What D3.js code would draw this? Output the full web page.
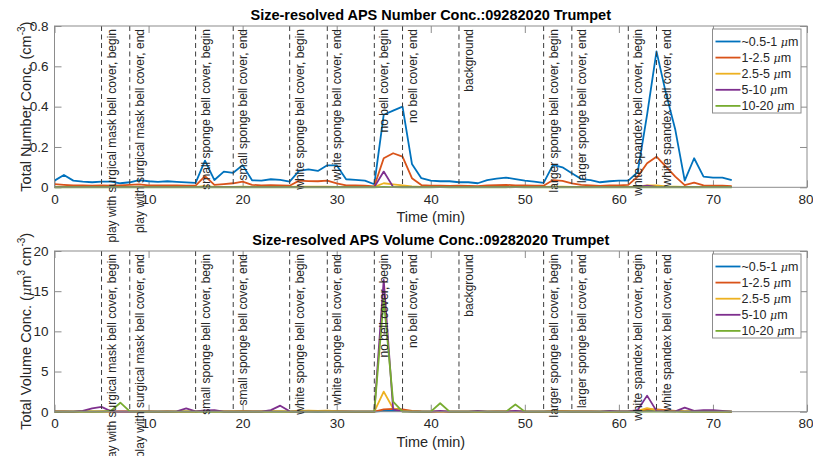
<!DOCTYPE html>
<html>
<head>
<meta charset="utf-8">
<script src="https://cdn.jsdelivr.net/npm/d3@7"></script>
<style>
  body { margin: 0; background: #fff; }
  svg { display: block; font-family: "Liberation Sans", Arial, sans-serif; }
</style>
</head>
<body>
<div id="chart"></div>
<script>
// minutes since start
const time = [0,1,2,3,4,5,6,7,8,9,10,11,12,13,14,15,16,17,18,19,20,21,22,23,24,25,26,27,28,29,30,31,32,33,34,35,36,
  37,38,39,40,41,42,43,44,45,46,47,48,49,50,51,52,53,54,55,56,57,58,59,60,61,62,63,64,65,66,67,68,69,70,71,72]

const sizeBins = ["~0.5-1", "1-2.5", "2.5-5", "5-10", "10-20"]
const binColors = ["#0072BD", "#D95319", "#EDB120", "#7E2F8E", "#77AC30"]

// number conc. (cm^-3)
const numSmall = [0.033,0.061,0.033,0.028,0.025,0.028,0.028,0.020,0.025,0.036,0.030,0.027,0.030,0.027,0.024,0.022,0.132,0.036,
  0.078,0.072,0.110,0.035,0.033,0.040,0.037,0.028,0.081,0.089,0.081,0.109,0.109,0.040,0.037,0.033,0.015,0.360,0.380,0.400,
  0.116,0.045,0.033,0.030,0.030,0.025,0.025,0.020,0.036,0.043,0.048,0.041,0.033,0.028,0.022,0.111,0.099,0.070,0.041,0.036,
  0.025,0.030,0.033,0.033,0.075,0.360,0.674,0.467,0.285,0.033,0.144,0.053,0.048,0.048,0.036]
const numMid = [0.016,0.012,0.009,0.010,0.008,0.010,0.008,0.010,0.012,0.015,0.010,0.009,0.010,0.009,0.008,0.008,0.055,0.012,
  0.016,0.020,0.028,0.012,0.010,0.011,0.010,0.008,0.033,0.031,0.030,0.033,0.020,0.010,0.009,0.008,0.005,0.144,0.169,0.152,
  0.045,0.011,0.008,0.008,0.007,0.008,0.007,0.006,0.009,0.011,0.012,0.010,0.009,0.008,0.008,0.036,0.032,0.020,0.012,0.010,
  0.007,0.009,0.010,0.012,0.053,0.119,0.152,0.102,0.053,0.011,0.023,0.010,0.008,0.008,0.006]
const numLarge = [0.002,0.002,0.002,0.002,0.002,0.002,0.002,0.002,0.002,0.002,0.002,0.002,0.002,0.002,0.002,0.002,0.006,0.002,
  0.002,0.002,0.003,0.002,0.002,0.002,0.002,0.002,0.003,0.003,0.003,0.003,0.002,0.002,0.002,0.002,0.002,0.020,0.015,0.010,
  0.004,0.002,0.002,0.002,0.002,0.002,0.002,0.002,0.002,0.002,0.002,0.002,0.002,0.002,0.002,0.003,0.003,0.002,0.002,0.002,
  0.002,0.002,0.002,0.002,0.003,0.010,0.010,0.005,0.003,0.002,0.002,0.002,0.002,0.002,0.002]
const numXL = [0.001,0.001,0.001,0.001,0.001,0.001,0.001,0.001,0.001,0.001,0.001,0.001,0.001,0.001,0.001,0.001,0.001,0.001,
  0.001,0.001,0.001,0.001,0.001,0.001,0.001,0.001,0.001,0.001,0.001,0.001,0.001,0.001,0.001,0.001,0.001,0.078,0.002,0.001,
  0.001,0.001,0.001,0.001,0.001,0.001,0.001,0.001,0.001,0.001,0.001,0.001,0.001,0.001,0.001,0.001,0.001,0.001,0.001,0.001,
  0.001,0.001,0.001,0.001,0.002,0.008,0.002,0.001,0.001,0.001,0.001,0.001,0.001,0.001,0.001]
const numXXL = [0.0003,0.0003,0.0003,0.0003,0.0003,0.0003,0.0003,0.0003,0.0003,0.0003,0.0003,0.0003,0.0003,0.0003,0.0003,
  0.0003,0.0003,0.0003,0.0003,0.0003,0.0003,0.0003,0.0003,0.0003,0.0003,0.0003,0.0003,0.0003,0.0003,0.0003,0.0003,0.0003,
  0.0003,0.0003,0.0003,0.002,0.0005,0.0003,0.0003,0.0003,0.0003,0.0005,0.0003,0.0003,0.0003,0.0003,0.0003,0.0003,0.0003,
  0.0005,0.0003,0.0003,0.0003,0.0003,0.0003,0.0003,0.0003,0.0003,0.0003,0.0003,0.0003,0.0003,0.0003,0.0003,0.0003,0.0003,
  0.0003,0.0003,0.0003,0.0003,0.0003,0.0003,0.0003]

// volume conc. (um^3 cm^-3)
const volSmall = [0.01,0.02,0.01,0.01,0.01,0.01,0.01,0.01,0.01,0.01,0.01,0.01,0.01,0.01,0.01,0.01,0.04,0.01,0.02,0.02,0.03,
  0.01,0.01,0.01,0.01,0.01,0.02,0.03,0.02,0.03,0.03,0.01,0.01,0.01,0.01,0.10,0.11,0.12,0.03,0.01,0.01,0.01,0.01,0.01,0.01,
  0.01,0.01,0.01,0.01,0.01,0.01,0.01,0.01,0.03,0.03,0.02,0.01,0.01,0.01,0.01,0.01,0.01,0.02,0.10,0.15,0.12,0.08,0.01,0.04,
  0.02,0.01,0.01,0.01]
const volMid = [0.03,0.03,0.02,0.03,0.02,0.03,0.02,0.03,0.03,0.04,0.03,0.02,0.03,0.02,0.02,0.02,0.10,0.03,0.04,0.05,0.06,
  0.03,0.03,0.03,0.03,0.02,0.07,0.07,0.07,0.07,0.05,0.03,0.02,0.02,0.02,0.30,0.35,0.30,0.10,0.03,0.02,0.02,0.02,0.02,0.02,
  0.02,0.02,0.03,0.03,0.03,0.02,0.02,0.02,0.08,0.07,0.05,0.03,0.03,0.02,0.02,0.02,0.03,0.12,0.25,0.30,0.20,0.10,0.03,0.05,
  0.03,0.02,0.02,0.02]
const volLarge = [0.02,0.02,0.02,0.02,0.03,0.02,0.02,0.02,0.02,0.02,0.02,0.02,0.02,0.02,0.03,0.02,0.05,0.02,0.02,0.03,0.04,
  0.02,0.02,0.02,0.03,0.02,0.10,0.12,0.10,0.12,0.08,0.02,0.02,0.02,0.02,2.50,0.40,0.10,0.05,0.02,0.02,0.02,0.02,0.02,0.02,
  0.02,0.02,0.02,0.02,0.02,0.02,0.02,0.02,0.05,0.05,0.03,0.02,0.02,0.02,0.02,0.02,0.02,0.10,0.45,0.20,0.10,0.05,0.02,0.03,
  0.02,0.02,0.02,0.02]
const volXL = [0.02,0.02,0.02,0.10,0.42,0.60,0.05,0.02,0.02,0.02,0.02,0.02,0.02,0.05,0.42,0.05,0.15,0.20,0.02,0.02,0.02,
  0.02,0.02,0.20,0.75,0.05,0.02,0.02,0.02,0.02,0.02,0.02,0.02,0.02,0.02,16.40,0.30,0.05,0.02,0.02,0.02,0.10,0.02,0.02,0.02,
  0.10,0.02,0.02,0.02,0.10,0.02,0.02,0.02,0.02,0.02,0.02,0.02,0.02,0.02,0.10,0.05,0.05,0.20,2.00,0.10,0.05,0.05,0.50,0.10,
  0.20,0.20,0.10,0.02]
const volXXL = [0.01,0.01,0.01,0.01,0.01,0.01,0.10,1.12,0.05,0.01,0.01,0.01,0.01,0.01,0.01,0.01,0.01,0.01,0.01,0.01,0.01,
  0.01,0.01,0.01,0.01,0.01,0.01,0.01,0.01,0.01,0.01,0.01,0.01,0.01,0.01,14.00,1.25,0.01,0.01,0.01,0.01,1.05,0.01,0.01,0.01,
  0.01,0.01,0.01,0.01,0.90,0.01,0.01,0.01,0.01,0.01,0.01,0.01,0.01,0.01,0.01,0.01,0.01,0.01,0.05,0.01,0.01,0.01,0.01,0.01,
  0.01,0.01,0.01,0.01]

// cover events (min) and their notes
const eventTimes = [5, 8, 15, 19, 25, 29, 34, 37, 43, 52, 55, 61, 64]
const eventLabels = [
  "play with surgical mask bell cover, begin",
  "play with surgical mask bell cover, end",
  "small sponge bell cover, begin",
  "small sponge bell cover, end",
  "white sponge bell cover, begin",
  "white sponge bell cover, end",
  "no bell cover, begin",
  "no bell cover, end",
  "background",
  "larger sponge bell cover, begin",
  "larger sponge bell cover, end",
  "white spandex bell cover, begin",
  "white spandex bell cover, end",
]

const xTicks = [0, 10, 20, 30, 40, 50, 60, 70, 80]
const numTicks = [0, 0.2, 0.4, 0.6, 0.8]
const volTicks = [0, 5, 10, 15, 20]

const W = 813, H = 456
const X0 = 54.5, X1 = 807
const axisGray = "#8c8c8c", textDark = "#262626"

const svg = d3.select("#chart").append("svg")
    .attr("width", W).attr("height", H)
    .attr("viewBox", [0, 0, W, H])

const x = d3.scaleLinear().domain([0, 80]).range([X0, X1])

function drawPanel(opt){
    const y = d3.scaleLinear().domain([opt.yTicks[0], opt.yTicks[opt.yTicks.length-1]]).range([opt.bottom, opt.top])
    const g = svg.append("g")

    g.append("rect")
        .attr("x", X0).attr("y", opt.top)
        .attr("width", X1 - X0).attr("height", opt.bottom - opt.top)
        .attr("fill", "#fff")

    const styleAxis = a => {
        a.select(".domain").remove()
        a.selectAll(".tick line").attr("stroke", axisGray)
        a.selectAll(".tick text").attr("fill", textDark).style("font-size", "13.5px")
    }
    g.append("g").attr("transform", `translate(0,${opt.bottom})`)
        .call(d3.axisBottom(x).tickValues(xTicks).tickSizeInner(-7).tickSizeOuter(0).tickPadding(7))
        .call(styleAxis)
        .call(a => a.selectAll(".tick text").filter(d => d === 80).attr("text-anchor", "end").attr("x", 6))
    g.append("g").attr("transform", `translate(0,${opt.top})`)
        .call(d3.axisTop(x).tickValues(xTicks).tickSizeInner(-7).tickSizeOuter(0).tickFormat(""))
        .call(styleAxis)
    g.append("g").attr("transform", `translate(${X0},0)`)
        .call(d3.axisLeft(y).tickValues(opt.yTicks).tickSizeInner(-7).tickSizeOuter(0).tickPadding(6).tickFormat(d => String(d)))
        .call(styleAxis)
    g.append("g").attr("transform", `translate(${X1},0)`)
        .call(d3.axisRight(y).tickValues(opt.yTicks).tickSizeInner(-7).tickSizeOuter(0).tickFormat(""))
        .call(styleAxis)

    const line = d3.line().x((d, i) => x(time[i])).y(d => y(d))
    g.selectAll("path.series")
        .data(opt.series).enter()
        .append("path")
        .attr("class", "series")
        .attr("d", d => line(d))
        .attr("fill", "none")
        .attr("stroke", (d, i) => binColors[i])
        .attr("stroke-width", 1.8)
        .attr("stroke-linejoin", "round")

    g.selectAll("line.event")
        .data(eventTimes).enter()
        .append("line")
        .attr("class", "event")
        .attr("x1", d => x(d)).attr("x2", d => x(d))
        .attr("y1", opt.top).attr("y2", opt.bottom)
        .attr("stroke", "#3c3c3c")
        .attr("stroke-width", 1)
        .attr("stroke-dasharray", "5,3.5")

    g.selectAll("text.event")
        .data(eventTimes).enter()
        .append("text")
        .attr("class", "event")
        .attr("transform", d => `translate(${x(d) + 14},${opt.top + 3}) rotate(-90)`)
        .attr("text-anchor", "end")
        .attr("fill", textDark)
        .style("font-size", "12px")
        .text((d, i) => eventLabels[i])

    g.append("rect")
        .attr("x", X0).attr("y", opt.top)
        .attr("width", X1 - X0).attr("height", opt.bottom - opt.top)
        .attr("fill", "none").attr("stroke", axisGray).attr("stroke-width", 1)

    g.append("text")
        .attr("x", (X0 + X1) / 2).attr("y", opt.titleY)
        .attr("text-anchor", "middle")
        .attr("fill", "#000")
        .style("font-size", "14.5px").style("font-weight", "bold")
        .text(opt.title)

    g.append("text")
        .attr("x", (X0 + X1) / 2).attr("y", opt.bottom + 35)
        .attr("text-anchor", "middle")
        .attr("fill", textDark)
        .style("font-size", "14.5px")
        .text("Time (min)")

    const yl = g.append("text")
        .attr("transform", `translate(31,${(opt.top + opt.bottom) / 2}) rotate(-90)`)
        .attr("text-anchor", "middle")
        .attr("fill", textDark)
        .style("font-size", "14.5px")
    opt.yLabel(yl)

    // legend
    const lg = g.append("g").attr("transform", `translate(712.5,${opt.top + 3})`)
    lg.append("rect")
        .attr("width", 88.5).attr("height", 84)
        .attr("fill", "#fff").attr("stroke", axisGray)
    const item = lg.selectAll("g.item")
        .data(sizeBins).enter()
        .append("g")
        .attr("transform", (d, i) => `translate(0,${12.5 + i * 16.1})`)
    item.append("line")
        .attr("x1", 3).attr("x2", 28)
        .attr("stroke", (d, i) => binColors[i]).attr("stroke-width", 1.8)
    const it = item.append("text")
        .attr("x", 29).attr("dy", "0.36em")
        .attr("fill", textDark)
        .style("font-size", "12.5px")
    it.append("tspan").text(d => d + " ")
    it.append("tspan").style("font-style", "italic").style("font-family", "'DejaVu Serif', serif").style("font-size", "11px").text("μ")
    it.append("tspan").text("m")
}

drawPanel({
    top: 26, bottom: 187.3, titleY: 19.5,
    yTicks: numTicks,
    series: [numSmall, numMid, numLarge, numXL, numXXL],
    title: "Size-resolved APS Number Conc.:09282020 Trumpet",
    yLabel: t => {
        t.append("tspan").text("Total Number Conc. (cm")
        t.append("tspan").attr("dy", -6).style("font-size", "10px").text("-3")
        t.append("tspan").attr("dy", 6).text(")")
    }
})

drawPanel({
    top: 251, bottom: 411.7, titleY: 245,
    yTicks: volTicks,
    series: [volSmall, volMid, volLarge, volXL, volXXL],
    title: "Size-resolved APS Volume Conc.:09282020 Trumpet",
    yLabel: t => {
        t.append("tspan").text("Total Volume Conc. (")
        t.append("tspan").style("font-style", "italic").style("font-family", "'DejaVu Serif', serif").style("font-size", "13px").text("μ")
        t.append("tspan").text("m")
        t.append("tspan").attr("dy", -6).style("font-size", "10px").text("3")
        t.append("tspan").attr("dy", 6).text(" cm")
        t.append("tspan").attr("dy", -6).style("font-size", "10px").text("-3")
        t.append("tspan").attr("dy", 6).text(")")
    }
})
</script>
</body>
</html>
